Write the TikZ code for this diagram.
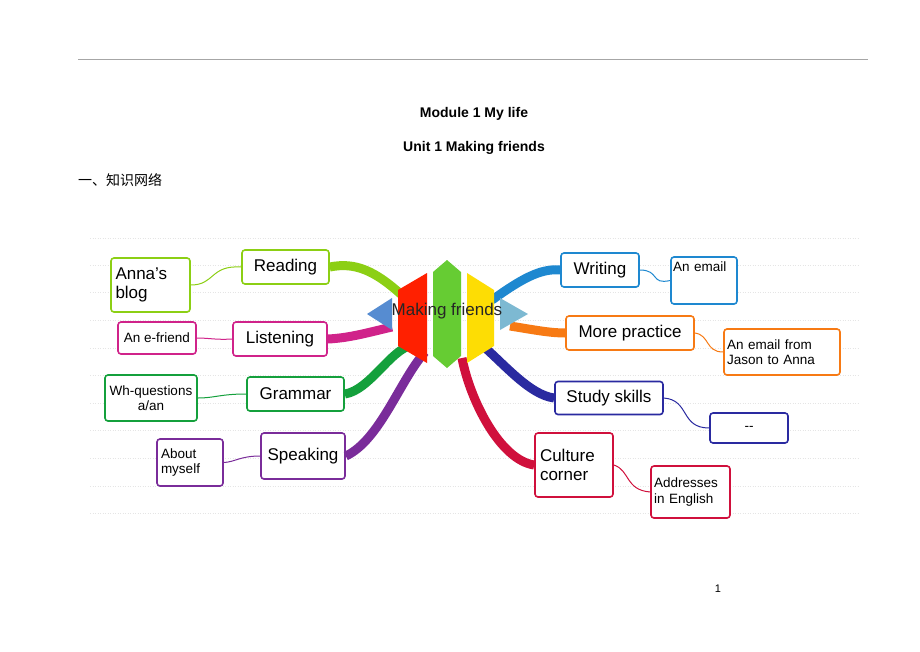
\documentclass[tikz,border=0pt]{standalone}
\usepackage{fontspec}
\setmainfont{Liberation Sans}
\newfontfamily\cjk{Noto Sans CJK SC}
\definecolor{cRead}{HTML}{8CCF14}
\definecolor{cList}{HTML}{D0238A}
\definecolor{cGram}{HTML}{14A03C}
\definecolor{cSpk}{HTML}{7A2C9A}
\definecolor{cWri}{HTML}{1E88D0}
\definecolor{cMore}{HTML}{F77A14}
\definecolor{cStu}{HTML}{2A2AA0}
\definecolor{cCul}{HTML}{D0103C}
\begin{document}
\begin{tikzpicture}[x=1pt,y=-1pt,
 box/.style={draw=#1,line width=1.6pt,rounded corners=3pt,fill=white,inner sep=0pt,align=left},
 big/.style={font=\fontsize{17}{19}\selectfont},
 small/.style={font=\fontsize{13.5}{15.5}\selectfont},
 rib/.style={draw=#1,line width=9pt,line cap=butt},
 lnk/.style={draw=#1,line width=1pt}]
\useasboundingbox (0,0) rectangle (920,651);
\fill[white] (0,0) rectangle (920,651);
\draw[gray!70,line width=0.6pt] (78,59) -- (868,59);
\node[font=\bfseries\fontsize{14}{16}\selectfont] (t1) at (474,114) {Module 1 My life};
\node[font=\bfseries\fontsize{14}{16}\selectfont] (t2) at (474,148) {Unit 1 Making friends};
\node[anchor=west,font=\cjk\fontsize{14}{16}\selectfont,inner sep=0pt] (t3) at (78,180) {一、知识网络};
\node[font=\fontsize{11}{13}\selectfont] (pg) at (718,589) {1};
\foreach \y in {238,265,292,320,348,375,403,430,458,486,513}
  \draw[dotted,gray!20,line width=0.5pt] (90,\y) -- (858,\y);
\coordinate (sR) at (405,298); \coordinate (sL) at (392,327);
\coordinate (sG) at (412,345); \coordinate (sS) at (425,352);
\coordinate (sW) at (492,300); \coordinate (sM) at (510,326);
\coordinate (sT) at (482,345); \coordinate (sC) at (462,358);
\node[box=cRead,big,minimum width=87pt,minimum height=34pt] (read) at (285.5,267) {Reading};
\node[box=cRead,big,minimum width=79pt,minimum height=54pt,text width=70pt] (anna) at (150.5,285) {Anna's\\blog};
\node[box=cList,big,minimum width=94pt,minimum height=34pt] (list) at (280,339) {Listening};
\node[box=cList,small,minimum width=78pt,minimum height=32pt] (efr) at (157,338) {An e-friend};
\node[box=cGram,big,minimum width=97pt,minimum height=34pt] (gram) at (295.5,394) {Grammar};
\node[box=cGram,small,align=center,minimum width=92pt,minimum height=46pt] (wh) at (151,398) {Wh-questions\\a/an};
\node[box=cSpk,big,minimum width=84pt,minimum height=46pt] (speak) at (303,456) {Speaking};
\node[box=cSpk,small,minimum width=66pt,minimum height=47pt,text width=58pt] (me) at (190,462.5) {About\\myself};
\node[box=cWri,big,minimum width=78pt,minimum height=34pt] (writ) at (600,270) {Writing};
\node[box=cWri,small,minimum width=66pt,minimum height=47pt,text width=62pt] (mail) at (704,280.5) {An email\\[12pt]\mbox{}};
\node[box=cMore,big,minimum width=128pt,minimum height=34pt] (more) at (630,333) {More practice};
\node[box=cMore,small,minimum width=116pt,minimum height=46pt,text width=110pt] (jas) at (782,352) {An email from\\Jason to Anna};
\node[box=cStu,big,minimum width=108pt,minimum height=33pt] (study) at (609,398) {Study skills};
\node[box=cStu,small,minimum width=78pt,minimum height=30pt] (dash) at (749,428) {-{}-};
\node[box=cCul,big,minimum width=78pt,minimum height=64pt,text width=68pt] (cult) at (574,465) {Culture\\corner};
\node[box=cCul,small,minimum width=79pt,minimum height=52pt,text width=73pt] (addr) at (690.5,492) {Addresses\\in English};
\draw[rib=cRead] (sR) .. controls (375,270) and (355,262) .. (read.east);
\draw[rib=cList] (sL) .. controls (370,332) and (350,338) .. (list.east);
\draw[rib=cGram] (sG) .. controls (390,350) and (370,390) .. (gram.east);
\draw[rib=cSpk] (sS) .. controls (400,380) and (380,440) .. (speak.east);
\draw[rib=cWri] (sW) .. controls (520,280) and (540,268) .. (writ.west);
\draw[rib=cMore] (sM) .. controls (535,330) and (550,333) .. (more.west);
\draw[rib=cStu] (sT) .. controls (505,365) and (530,395) .. (study.west);
\draw[rib=cCul] (sC) .. controls (470,400) and (500,460) .. (cult.west);
\draw[lnk=cRead] (read.west) .. controls (210,265) and (215,285) .. (anna.east);
\draw[lnk=cList] (list.west) .. controls (215,340) and (210,338) .. (efr.east);
\draw[lnk=cGram] (gram.west) .. controls (220,394) and (215,398) .. (wh.east);
\draw[lnk=cSpk] (speak.west) .. controls (240,456) and (235,462) .. (me.east);
\draw[lnk=cWri] (writ.east) .. controls (660,270) and (650,285) .. (mail.west);
\draw[lnk=cMore] (more.east) .. controls (710,335) and (705,352) .. (jas.west);
\draw[lnk=cStu] (study.east) .. controls (690,400) and (680,428) .. (dash.west);
\draw[lnk=cCul] (cult.east) .. controls (630,470) and (625,490) .. (addr.west);
\fill[cyan!50!blue!70] (367,314) -- (392,298) -- (392,330) -- cycle;
\fill[red!75!orange] (398,290) -- (427,273) -- (427,363) -- (398,346) -- cycle;
\fill[green!50!olive!80] (433,272) -- (447,260) -- (461,272) -- (461,356) -- (447,368) -- (433,356) -- cycle;
\fill[yellow!80!orange] (467,273) -- (494,290) -- (494,346) -- (467,363) -- cycle;
\fill[cyan!40!teal!60] (500,298) -- (528,314) -- (500,330) -- cycle;
\node[font=\fontsize{17}{19}\selectfont,text=black!85] (ctr) at (447,311) {Making friends};
\end{tikzpicture}
\end{document}
